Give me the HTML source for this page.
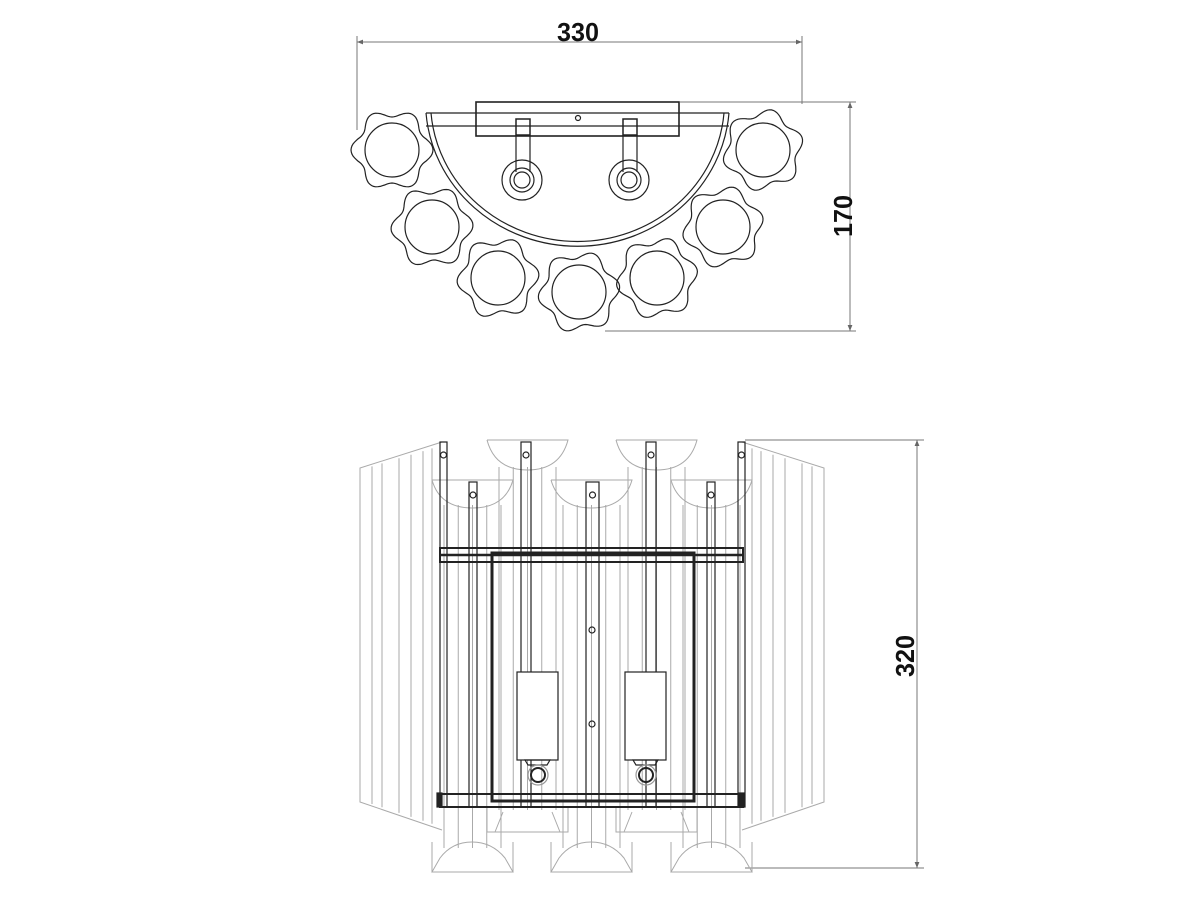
<!DOCTYPE html>
<html><head><meta charset="utf-8"><style>
html,body{margin:0;padding:0;background:#fff;width:1200px;height:900px;overflow:hidden}
svg{display:block}
text{font-family:"Liberation Sans",sans-serif;font-size:26px;font-weight:bold;fill:#111}
</style></head><body>
<svg id="s" width="1200" height="900" viewBox="0 0 1200 900" xmlns="http://www.w3.org/2000/svg">
<defs>
<marker id="a" viewBox="0 0 10 10" refX="10" refY="5" markerWidth="14" markerHeight="6" orient="auto-start-reverse" markerUnits="userSpaceOnUse"><path d="M0,1 L10,5 L0,9 z" fill="#666"/></marker>
</defs>
<g stroke="#777" stroke-width="1" fill="none">
<line x1="357" y1="42" x2="802" y2="42" marker-start="url(#a)" marker-end="url(#a)"/>
<line x1="357" y1="36" x2="357" y2="130"/>
<line x1="802" y1="36" x2="802" y2="104"/>
<line x1="850" y1="102" x2="850" y2="331" marker-start="url(#a)" marker-end="url(#a)"/>
<line x1="680" y1="102" x2="856" y2="102"/>
<line x1="605" y1="331" x2="856" y2="331"/>
<line x1="917" y1="440" x2="917" y2="868" marker-start="url(#a)" marker-end="url(#a)"/>
<line x1="745" y1="440" x2="924" y2="440"/>
<line x1="745" y1="868" x2="924" y2="868"/>
</g>
<text x="557" y="41" textLength="42" lengthAdjust="spacingAndGlyphs">330</text>
<text transform="translate(852,237) rotate(-90)" textLength="42" lengthAdjust="spacingAndGlyphs">170</text>
<text transform="translate(914,677) rotate(-90)" textLength="42" lengthAdjust="spacingAndGlyphs">320</text>
<g id="top" stroke="#222" stroke-width="1.2" fill="none"></g>
<g id="front" fill="none"></g>
</svg>
<script>
var NS="http://www.w3.org/2000/svg";
function el(p,t,a){var e=document.createElementNS(NS,t);for(var k in a)e.setAttribute(k,a[k]);p.appendChild(e);return e;}
var T=document.getElementById('top');
el(T,'rect',{x:476,y:102,width:203,height:34,'stroke-width':1.6});
el(T,'line',{x1:426,y1:113,x2:729,y2:113});
el(T,'line',{x1:426,y1:126,x2:729,y2:126});
el(T,'circle',{cx:578,cy:118,r:2.5});
el(T,'path',{d:'M426,113 A152,145 0 0 0 729,113'});
el(T,'path',{d:'M431,113 A147,140 0 0 0 724,113'});
[523,630].forEach(function(x){
 el(T,'rect',{x:x-7,y:119,width:14,height:16,'stroke-width':1.5});
 el(T,'line',{x1:x-7,y1:135,x2:x-7,y2:172});
 el(T,'line',{x1:x+7,y1:135,x2:x+7,y2:172});
 el(T,'circle',{cx:x-1,cy:180,r:20});el(T,'circle',{cx:x-1,cy:180,r:12});el(T,'circle',{cx:x-1,cy:180,r:8});
});
[[392,150],[432,227],[498,278],[579,292],[657,278],[723,227],[763,150]].forEach(function(c,i){
 var d='',ph=i*0.3;
 for(var k=0;k<=120;k++){var t=k/120*Math.PI*2;var r=37+4*Math.cos(6*t+ph);
  d+=(k?'L':'M')+(c[0]+r*Math.cos(t)).toFixed(1)+','+(c[1]+r*Math.sin(t)).toFixed(1);}
 el(T,'path',{d:d+'Z'});
 el(T,'circle',{cx:c[0],cy:c[1],r:27});
});
var F=document.getElementById('front');
var g=el(F,'g',{stroke:'#aaa','stroke-width':1});
el(g,'path',{d:'M442,442 L360,468 L360,802 L442,830'});
el(g,'path',{d:'M742,442 L824,468 L824,802 L742,830'});
[372,382,399,411,423,432].forEach(function(x){
 el(g,'line',{x1:x,y1:470-(x-360)*0.3,x2:x,y2:800+(x-360)*0.33});
 var x2=1184-x;el(g,'line',{x1:x2,y1:470-(824-x2)*0.3,x2:x2,y2:800+(824-x2)*0.33});
});
function shade(x1,x2,y,h){var w=x2-x1;
 el(g,'path',{d:'M'+x1+','+y+' L'+x2+','+y+' Q'+(x2-8)+','+(y+h)+' '+((x1+x2)/2)+','+(y+h)+' Q'+(x1+8)+','+(y+h)+' '+x1+','+y});
 for(var k=0;k<5;k++){var xx=x1+12+k*(w-24)/4;el(g,'line',{x1:xx,y1:y+h-3,x2:xx,y2:y+h+340});}
}
shade(487,568,440,30);shade(616,697,440,30);
shade(432,513,480,28);shade(551,632,480,28);shade(671,752,480,28);
[432,551,671].forEach(function(x){
 el(g,'path',{d:'M'+x+',872 L'+(x+81)+',872 L'+(x+73)+',858 Q'+(x+60)+',842 '+(x+40)+',842 Q'+(x+20)+',842 '+(x+8)+',858 Z'});
 el(g,'line',{x1:x,y1:842,x2:x,y2:872});el(g,'line',{x1:x+81,y1:842,x2:x+81,y2:872});
});
[487,616].forEach(function(x){
 el(g,'path',{d:'M'+x+',808 L'+x+',832 L'+(x+81)+',832 L'+(x+81)+',808 M'+(x+8)+',832 L'+(x+16)+',812 M'+(x+73)+',832 L'+(x+65)+',812'});
});
var d=el(F,'g',{stroke:'#222','stroke-width':1.2});
function rod(x,w,y1,y2,dot){el(d,'rect',{x:x,y:y1,width:w,height:y2-y1});if(dot)el(d,'circle',{cx:x+w/2,cy:y1+13,r:3});}
rod(440,7,442,807,1);rod(738,7,442,807,1);
rod(521,10,442,807,1);rod(646,10,442,807,1);
rod(469,8,482,807,1);rod(586,13,482,807,1);rod(707,8,482,807,1);
el(d,'rect',{x:440,y:548,width:303,height:14,'stroke-width':2});
el(d,'line',{x1:440,y1:555,x2:743,y2:555,'stroke-width':2.5});
el(d,'rect',{x:440,y:794,width:303,height:13,'stroke-width':2});
el(d,'rect',{x:437,y:793,width:5,height:14,fill:'#222'});
el(d,'rect',{x:739,y:793,width:5,height:14,fill:'#222'});
el(d,'rect',{x:492,y:553,width:202,height:248,'stroke-width':3});
el(d,'circle',{cx:592,cy:630,r:3});el(d,'circle',{cx:592,cy:724,r:3});
[517,625].forEach(function(x){
 el(d,'rect',{x:x,y:672,width:41,height:88,fill:'#fff'});
 el(d,'path',{d:'M'+(x+8)+',760 L'+(x+33)+',760 L'+(x+30)+',765 L'+(x+11)+',765 Z'});
 el(d,'circle',{cx:x+21,cy:775,r:10,stroke:'#999'});el(d,'circle',{cx:x+21,cy:775,r:7,'stroke-width':2});
});
</script>
</body></html>
